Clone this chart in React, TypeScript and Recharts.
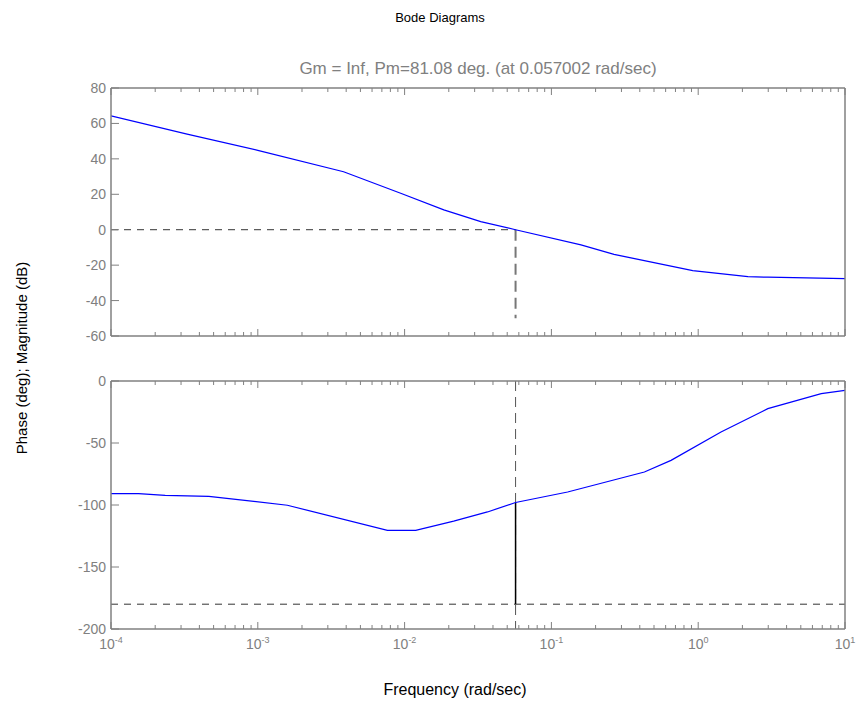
import React from "react";
import { LineChart, Line, XAxis, YAxis, ReferenceLine } from "recharts";

// magnitude curve (dB)
const magFreq = [1e-4, 3.3e-4, 1e-3, 3.84e-3, 9.4e-3, 0.0185, 0.033, 0.057, 0.159, 0.267, 0.918, 2.18, 2.98, 10];
const magDb = [64.3, 54.0, 44.8, 32.7, 20.6, 11.2, 4.6, 0, -8.6, -13.9, -23.1, -26.5, -26.8, -27.6];

// phase curve (deg)
const phaseFreq = [1e-4, 1.54e-4, 2.34e-4, 4.64e-4, 1.59e-3, 7.64e-3, 0.0119, 0.0216, 0.0367, 0.057, 0.129, 0.43, 0.653, 1.43, 2.98, 6.89, 10];
const phaseDeg = [-90.8, -90.8, -92.2, -93, -100.2, -120.4, -120.4, -113, -105.6, -98, -89.5, -73.4, -64, -41.1, -22.3, -10.2, -7.5];

const decades = [1e-4, 1e-3, 1e-2, 1e-1, 1, 10];
const decadeExp = ["-4", "-3", "-2", "-1", "0", "1"];
const minorMult = [2, 3, 4, 5, 6, 7, 8, 9];
const magTicks = [-60, -40, -20, 0, 20, 40, 60, 80];
const phaseTicks = [-200, -150, -100, -50, 0];

// margin annotation
const wc = 0.057002;
const pm = 81.08;
const phaseAtWc = -98;
const magDashEnd = -50;

const xTicks = [...decades, ...decades.slice(0, -1).flatMap((d) => minorMult.map((m) => m * d))];

const magData = magFreq.map((f, i) => ({ f, v: magDb[i] }));
const phaseData = phaseFreq.map((f, i) => ({ f, v: phaseDeg[i] }));

const gray = "#808080";
const font = "'Liberation Sans', Arial, sans-serif";

const decadeIndex = (v: number) => decades.findIndex((d) => Math.abs(d - v) / d < 1e-9);

const makeXTick = (dir: 1 | -1, labels: boolean) => (props: any) => {
  const { x, y, payload } = props;
  const idx = decadeIndex(payload.value);
  const len = idx >= 0 ? 7 : 4;
  return (
    <g>
      <line x1={x} x2={x} y1={y} y2={y + dir * len} stroke={gray} strokeWidth={1} />
      {labels && idx >= 0 && (
        <text x={x} y={y + 20} textAnchor="middle" fill={gray} fontSize={14} fontFamily={font}>
          10
          <tspan dy={-6} fontSize={9}>
            {decadeExp[idx]}
          </tspan>
        </text>
      )}
    </g>
  );
};

const makeYTick = (dir: 1 | -1, labels: boolean) => (props: any) => {
  const { x, y, payload } = props;
  return (
    <g>
      <line x1={x} x2={x + dir * 8} y1={y} y2={y} stroke={gray} strokeWidth={1} />
      {labels && (
        <text x={x - 5} y={y + 5} textAnchor="end" fill={gray} fontSize={14} fontFamily={font}>
          {payload.value}
        </text>
      )}
    </g>
  );
};

const axisCommon = {
  type: "number" as const,
  dataKey: "f",
  scale: "log" as const,
  domain: [1e-4, 10],
  allowDataOverflow: true,
  ticks: xTicks,
  interval: 0 as const,
  tickLine: false,
  tickSize: 0,
  tickMargin: 0,
  height: 1,
  axisLine: { stroke: gray, strokeWidth: 1.5 },
};

const Panel = ({
  data,
  yDomain,
  yTicks,
  top,
  bottom,
  xLabels,
  children,
}: {
  data: { f: number; v: number }[];
  yDomain: [number, number];
  yTicks: number[];
  top: number;
  bottom: number;
  xLabels: boolean;
  children?: React.ReactNode;
}) => (
  <div style={{ position: "absolute", left: 0, top: 0 }}>
    <LineChart width={856} height={702} data={data} margin={{ top: top - 1, right: 10, bottom: 702 - bottom - 1, left: 0 }}>
      <XAxis xAxisId="b" orientation="bottom" {...axisCommon} tick={makeXTick(-1, xLabels)} />
      <XAxis xAxisId="t" orientation="top" {...axisCommon} tick={makeXTick(1, false)} />
      <YAxis
        yAxisId="l"
        orientation="left"
        type="number"
        domain={yDomain}
        ticks={yTicks}
        interval={0}
        width={111}
        tickLine={false}
        tickSize={0}
        tickMargin={0}
        axisLine={{ stroke: gray, strokeWidth: 1.5 }}
        tick={makeYTick(1, true)}
      />
      <YAxis
        yAxisId="r"
        orientation="right"
        type="number"
        domain={yDomain}
        ticks={yTicks}
        interval={0}
        width={1}
        tickLine={false}
        tickSize={0}
        tickMargin={0}
        axisLine={{ stroke: gray, strokeWidth: 1.5 }}
        tick={makeYTick(-1, false)}
      />
      {children}
      <Line
        xAxisId="b"
        yAxisId="l"
        dataKey="v"
        type="linear"
        stroke="#0000ff"
        strokeWidth={1.2}
        dot={false}
        isAnimationActive={false}
      />
    </LineChart>
  </div>
);

export default function App() {
  return (
    <div
      style={{
        position: "absolute",
        left: 0,
        top: 0,
        width: 856,
        height: 702,
        background: "#fff",
        fontFamily: font,
      }}
    >
      <Panel data={magData} yDomain={[-60, 80]} yTicks={magTicks} top={88} bottom={336} xLabels={false}>
        <ReferenceLine
          xAxisId="b"
          yAxisId="l"
          segment={[{ x: 1e-4, y: 0 }, { x: wc, y: 0 }]}
          stroke="#333"
          strokeDasharray="7 6"
          ifOverflow="visible"
        />
        <ReferenceLine
          xAxisId="b"
          yAxisId="l"
          segment={[{ x: wc, y: 0 }, { x: wc, y: magDashEnd }]}
          stroke="#777"
          strokeWidth={2}
          strokeDasharray="11 6"
          ifOverflow="visible"
        />
      </Panel>
      <Panel data={phaseData} yDomain={[-200, 0]} yTicks={phaseTicks} top={381} bottom={629} xLabels={true}>
        <ReferenceLine
          xAxisId="b"
          yAxisId="l"
          segment={[{ x: 1e-4, y: -180 }, { x: 10, y: -180 }]}
          stroke="#333"
          strokeDasharray="7 6"
          ifOverflow="visible"
        />
        <ReferenceLine
          xAxisId="b"
          yAxisId="l"
          segment={[{ x: wc, y: 0 }, { x: wc, y: -200 }]}
          stroke="#555"
          strokeDasharray="10 6"
          ifOverflow="visible"
        />
        <ReferenceLine
          xAxisId="b"
          yAxisId="l"
          segment={[{ x: wc, y: -180 }, { x: wc, y: -180 + pm + (phaseAtWc + 180 - pm) }]}
          stroke="#000"
          strokeWidth={1.5}
          ifOverflow="visible"
        />
      </Panel>
      <div style={{ position: "absolute", left: 340, width: 200, top: 10, textAlign: "center", fontSize: 13, lineHeight: "16px", color: "#000" }}>
        Bode Diagrams
      </div>
      <div style={{ position: "absolute", left: 228, width: 500, top: 59, textAlign: "center", fontSize: 17, lineHeight: "20px", color: gray }}>
        Gm = Inf, Pm=81.08 deg. (at 0.057002 rad/sec)
      </div>
      <div style={{ position: "absolute", left: 355, width: 200, top: 680, textAlign: "center", fontSize: 16, lineHeight: "20px", color: "#000" }}>
        Frequency (rad/sec)
      </div>
      <div
        style={{
          position: "absolute",
          left: 22 - 150,
          top: 358 - 10,
          width: 300,
          textAlign: "center",
          fontSize: 15,
          lineHeight: "20px",
          color: "#000",
          transform: "rotate(-90deg)",
        }}
      >
        Phase (deg); Magnitude (dB)
      </div>
    </div>
  );
}
